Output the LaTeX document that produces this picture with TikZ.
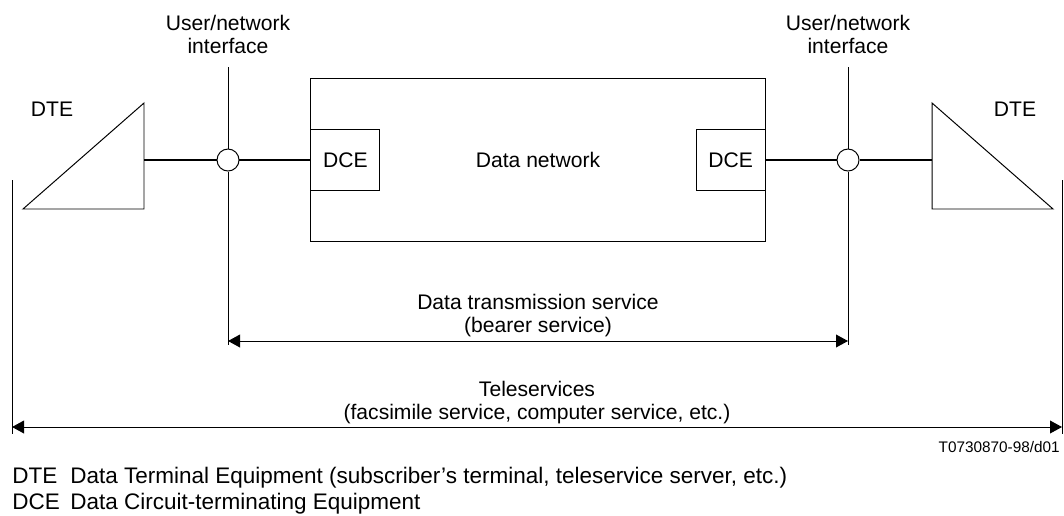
\documentclass[tikz,border=0pt]{standalone}
\usepackage{fontspec}
\setmainfont{Liberation Sans}
\usetikzlibrary{positioning,arrows.meta}
\tikzset{
  txt/.style={font=\fontsize{15}{16.5}\selectfont, inner sep=0pt, align=center},
  keyTxt/.style={font=\fontsize{16}{18}\selectfont, inner sep=0pt, anchor=base west},
  netBox/.style={rectangle, draw, line width=0.7pt, minimum width=11.35cm, minimum height=4.05cm, inner sep=0pt},
  dceBox/.style={rectangle, draw, line width=0.7pt, minimum width=1.725cm, minimum height=1.525cm, inner sep=0pt},
  ifCircle/.style={circle, draw, line width=0.7pt, minimum size=0.55cm, inner sep=0pt},
  linkLine/.style={line width=1.3pt},
  thinLine/.style={line width=0.7pt},
  dimArrow/.style={{Triangle[length=3mm,width=3.2mm]}-{Triangle[length=3mm,width=3.2mm]}, line width=0.7pt}
}
\begin{document}
\begin{tikzpicture}[x=0.025cm, y=-0.025cm]
  \useasboundingbox (0,0) rectangle (1064,515);

  % data network with its DCEs
  \node[netBox, txt] (net) at (538,160) {Data network};
  \node[dceBox, txt, anchor=west] (dceL) at (net.west) {DCE};
  \node[dceBox, txt, anchor=east] (dceR) at (net.east) {DCE};

  % interfaces
  \node[ifCircle] (ifL) at (228,160) {};
  \node[ifCircle] (ifR) at (848,160) {};
  \coordinate (ifLtop) at (228,67);
  \coordinate (ifLbot) at (228,345);
  \coordinate (ifRtop) at (848,67);
  \coordinate (ifRbot) at (848,345);
  \draw[thinLine] (ifLtop) -- (ifL) -- (ifLbot);
  \draw[thinLine] (ifRtop) -- (ifR) -- (ifRbot);
  \node[txt, above=9pt of ifLtop] (ifLtext) {User/network\\interface};
  \node[txt, above=9pt of ifRtop] (ifRtext) {User/network\\interface};

  % DTEs
  \coordinate (dteLtip) at (23,209);
  \coordinate (dteLtop) at (144,103);
  \coordinate (dteLbot) at (144,209);
  \coordinate (dteLport) at (144,160);
  \draw[thinLine] (dteLtip) -- (dteLtop) -- (dteLbot) -- cycle;
  \coordinate (dteRtip) at (1053,209);
  \coordinate (dteRtop) at (932,103);
  \coordinate (dteRbot) at (932,209);
  \coordinate (dteRport) at (932,160);
  \draw[thinLine] (dteRtip) -- (dteRtop) -- (dteRbot) -- cycle;
  \node[txt] (dteLtext) at (52,109) {DTE};
  \node[txt] (dteRtext) at (1015,109) {DTE};

  \draw[linkLine] (dteLport) -- (ifL) -- (dceL);
  \draw[linkLine] (dceR) -- (ifR) -- (dteRport);

  % services
  \coordinate (bearL) at (228,341);
  \coordinate (bearR) at (848,341);
  \draw[dimArrow] (bearL) -- node[txt, above=2.5pt] (bearText) {Data transmission service\\(bearer service)} (bearR);

  \coordinate (teleLtop) at (12,180);
  \coordinate (teleLbot) at (12,434);
  \coordinate (teleRtop) at (1062,180);
  \coordinate (teleRbot) at (1062,434);
  \draw[thinLine] (teleLtop) -- (teleLbot);
  \draw[thinLine] (teleRtop) -- (teleRbot);
  \coordinate (teleL) at (12,427);
  \coordinate (teleR) at (1062,427);
  \draw[dimArrow] (teleL) -- node[txt, above=2pt] (teleText) {Teleservices\\(facsimile service, computer service, etc.)} (teleR);

  \node[txt, font=\fontsize{10.9}{12}\selectfont, anchor=east] (refNo) at (1060,447) {T0730870-98/d01};

  % legend
  \node[keyTxt] (keyDte) at (12,483) {DTE};
  \node[keyTxt] (keyDteText) at (70,483) {Data Terminal Equipment (subscriber’s terminal, teleservice server, etc.)};
  \node[keyTxt] (keyDce) at (12,509) {DCE};
  \node[keyTxt] (keyDceText) at (70,509) {Data Circuit-terminating Equipment};
\end{tikzpicture}
\end{document}
